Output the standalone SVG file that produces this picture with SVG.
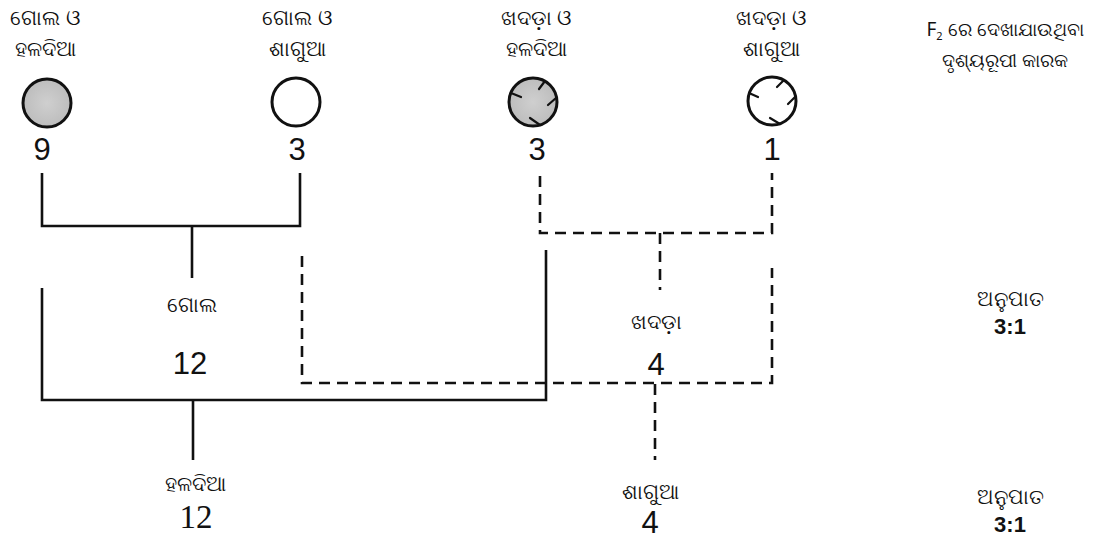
<svg xmlns="http://www.w3.org/2000/svg" width="1113" height="540" viewBox="0 0 1113 540">
<style>
.od{font-family:"Noto Sans","DejaVu Sans",sans-serif;font-size:21px;fill:#111;text-anchor:middle}
.hd{font-size:19px}
.num{font-family:"Liberation Sans",Arial,sans-serif;font-size:31px;fill:#111;text-anchor:middle}
.ser{font-family:"Liberation Serif","Times New Roman",serif;font-size:33px;fill:#111;text-anchor:middle}
.rat{font-family:"Liberation Sans",Arial,sans-serif;font-size:22px;font-weight:bold;fill:#111;text-anchor:middle}
.solid{fill:none;stroke:#111;stroke-width:2.6}
.dash{fill:none;stroke:#111;stroke-width:2.6;stroke-dasharray:11 7}
.pea{stroke:#111;stroke-width:3}
.notch{stroke:#111;stroke-width:2.2;stroke-linecap:round}
</style>
<rect width="1113" height="540" fill="#fff"/>
<defs>
<radialGradient id="g" cx="0.5" cy="0.5" r="0.5">
<stop offset="0" stop-color="#cfcfcf"/>
<stop offset="1" stop-color="#bdbdbd"/>
</radialGradient>
</defs>

<g id="round-yellow">
<text class="od" x="45" y="25">ଗୋଲ ଓ</text>
<text class="od" x="45" y="56">ହଳଦିଆ</text>
<circle class="pea" cx="47" cy="103" r="24" fill="url(#g)"/>
<text class="num" x="42" y="160">9</text>
</g>

<g id="round-green">
<text class="od" x="297" y="25">ଗୋଲ ଓ</text>
<text class="od" x="297" y="56">ଶାଗୁଆ</text>
<circle class="pea" cx="296" cy="102" r="24" fill="#fff"/>
<text class="num" x="297" y="160">3</text>
</g>

<g id="wrinkled-yellow">
<text class="od" x="536" y="25">ଖଦଡ଼ା ଓ</text>
<text class="od" x="536" y="56">ହଳଦିଆ</text>
<circle class="pea" cx="533" cy="102" r="24" fill="url(#g)"/>
<line class="notch" x1="511" y1="93" x2="521" y2="97"/>
<line class="notch" x1="545" y1="81" x2="539" y2="89"/>
<line class="notch" x1="556" y1="98" x2="548" y2="105"/>
<line class="notch" x1="540" y1="125" x2="530" y2="118"/>
<text class="num" x="537" y="160">3</text>
</g>

<g id="wrinkled-green">
<text class="od" x="771" y="25">ଖଦଡ଼ା ଓ</text>
<text class="od" x="771" y="56">ଶାଗୁଆ</text>
<circle class="pea" cx="772" cy="101" r="24" fill="#fff"/>
<line class="notch" x1="749" y1="93" x2="758" y2="97"/>
<line class="notch" x1="784" y1="80" x2="777" y2="87"/>
<line class="notch" x1="795" y1="97" x2="788" y2="104"/>
<line class="notch" x1="780" y1="124" x2="770" y2="118"/>
<text class="num" x="772" y="160">1</text>
</g>

<g id="header">
<text class="od hd" x="1005" y="36">F<tspan font-size="11" dy="4">2</tspan><tspan dy="-4"> ରେ ଦେଖାଯାଉଥିବା</tspan></text>
<text class="od hd" x="1005" y="67">ଦୃଶ୍ୟରୂପୀ କାରକ</text>
</g>

<g id="connectors">
<path class="solid" d="M42 173 V226 H300 V173"/>
<path class="solid" d="M192 226 V278"/>
<path class="solid" d="M42 288 V400 H546 V250"/>
<path class="solid" d="M193 400 V460"/>
<path class="dash" d="M540 176 V233 H772 V173"/>
<path class="dash" d="M660 233 V290"/>
<path class="dash" d="M302 256 V383 H772 V268"/>
<path class="dash" d="M655 384 V460"/>
</g>

<g id="round">
<text class="od" x="192" y="312">ଗୋଲ</text>
<text class="num" x="190" y="374">12</text>
</g>

<g id="wrinkled">
<text class="od" x="656" y="329">ଖଦଡ଼ା</text>
<text class="num" x="656" y="375">4</text>
</g>

<g id="ratio-shape">
<text class="od" x="1010" y="306">ଅନୁପାତ</text>
<text class="rat" x="1010" y="334">3:1</text>
</g>

<g id="yellow">
<text class="od" x="195" y="491">ହଳଦିଆ</text>
<text class="ser" x="196" y="528">12</text>
</g>

<g id="green">
<text class="od" x="650" y="499">ଶାଗୁଆ</text>
<text class="num" x="650" y="533">4</text>
</g>

<g id="ratio-colour">
<text class="od" x="1010" y="504">ଅନୁପାତ</text>
<text class="rat" x="1010" y="532">3:1</text>
</g>
</svg>
